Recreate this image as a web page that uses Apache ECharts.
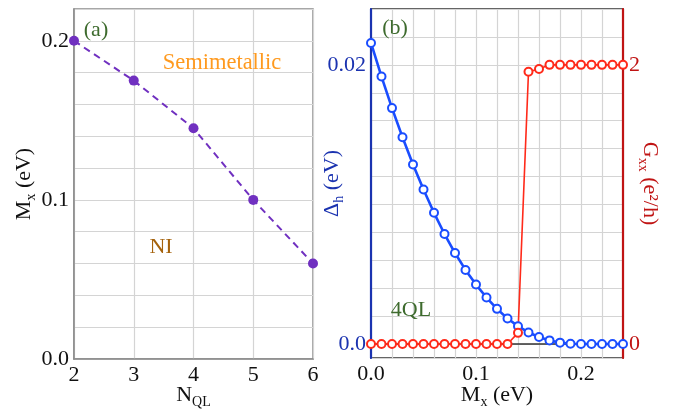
<!DOCTYPE html>
<html>
<head>
<meta charset="utf-8">
<script src="https://cdn.jsdelivr.net/npm/echarts@6/dist/echarts.min.js"></script>
<style>
  html, body { margin: 0; padding: 0; background: #fff; }
  #chart { width: 674px; height: 409px; }
</style>
</head>
<body>
<div id="chart"></div>
<script>
// ---- Panel (a) data ----
const aNQL = [2, 3, 4, 5, 6];
const aMx = [0.2, 0.175, 0.145, 0.1, 0.06];
const aYTickValues = [0, 0.1, 0.2];
const aYTickLabels = ['0.0', '0.1', '0.2'];

// ---- Panel (b) data ----
const bMx = [0, 0.01, 0.02, 0.03, 0.04, 0.05, 0.06, 0.07, 0.08, 0.09, 0.10, 0.11, 0.12,
             0.13, 0.14, 0.15, 0.16, 0.17, 0.18, 0.19, 0.20, 0.21, 0.22, 0.23, 0.24];
const bDelta = [0.02157, 0.01916, 0.0169, 0.01481, 0.01286, 0.01107, 0.0094, 0.00788, 0.00652,
                0.00531, 0.00426, 0.00333, 0.00252, 0.00183, 0.00128, 0.00083, 0.0005, 0.00026,
                0.0001, 0.00002, 0, 0, 0, 0, 0];
const bGxx = [0, 0, 0, 0, 0, 0, 0, 0, 0, 0, 0, 0, 0, 0,
              0.08, 1.95, 1.97, 2, 2, 2, 2, 2, 2, 2, 2];
const bXTickValues = [0, 0.1, 0.2];
const bXTickLabels = ['0.0', '0.1', '0.2'];
const bLeftTickValues = [0, 0.02];
const bLeftTickLabels = ['0.0', '0.02'];
const bRightTickValues = [0, 2];
const bRightTickLabels = ['0', '2'];

const FONT = 'Liberation Serif';
const FS = 22;
const PURPLE = '#7030c0';
const BLUE = '#1a4dff';
const RED = '#ff2a1a';
const AXBLUE = '#1b33b0';
const AXRED = '#c01414';
const GRIDC = '#d4d4d4';

function fmt(values, labels) {
  return function (v) {
    const i = values.findIndex(t => Math.abs(t - v) < 1e-9);
    return i >= 0 ? labels[i] : '';
  };
}
function pairs(xs, ys) { return xs.map((x, i) => [x, ys[i]]); }

function nameRich(color) {
  return {
    m: { fontFamily: FONT, fontSize: FS, color: color, verticalAlign: 'bottom', padding: [0, 0, 3, 0] },
    s: { fontFamily: FONT, fontSize: 14, color: color, verticalAlign: 'bottom', padding: [12, 0, 0, 0] }
  };
}

const chart = echarts.init(document.getElementById('chart'), null, { renderer: 'canvas' });

const option = {
  animation: false,
  backgroundColor: '#fff',
  grid: [
    { left: 74, top: 9, width: 239, height: 350, show: true, borderColor: '#8a8a8a', borderWidth: 1.5,
      containLabel: false, outerBoundsMode: 'none' },
    { left: 371, top: 9, width: 252, height: 349, show: true, borderColor: '#333', borderWidth: 1.5,
      containLabel: false, outerBoundsMode: 'none' }
  ],
  xAxis: [
    {
      gridIndex: 0, type: 'value', min: 2, max: 6, interval: 1,
      axisLine: { show: true, lineStyle: { color: '#8a8a8a', width: 1.5 } },
      axisTick: { show: false },
      axisLabel: { fontFamily: FONT, fontSize: FS, color: '#111', margin: 5 },
      splitLine: { show: true, lineStyle: { color: GRIDC, width: 1.2 } },
      name: '{m|N}{s|QL}', nameLocation: 'middle', nameGap: 24, nameMoveOverlap: false,
      nameTextStyle: { rich: nameRich('#111') }
    },
    {
      gridIndex: 1, type: 'value', min: 0, max: 0.24, interval: 0.02,
      axisLine: { show: true, lineStyle: { color: '#333', width: 1.5 } },
      axisTick: { show: false },
      axisLabel: { fontFamily: FONT, fontSize: FS, color: '#111', margin: 5,
                   formatter: fmt(bXTickValues, bXTickLabels) },
      splitLine: { show: true, lineStyle: { color: GRIDC, width: 1.2 } },
      name: '{m|M}{s|x}{m| (eV)}', nameLocation: 'middle', nameGap: 25, nameMoveOverlap: false,
      nameTextStyle: { rich: nameRich('#111') }
    }
  ],
  yAxis: [
    {
      gridIndex: 0, type: 'value', min: 0, max: 0.22, interval: 0.02,
      axisLine: { show: true, lineStyle: { color: '#8a8a8a', width: 1.5 } },
      axisTick: { show: false },
      axisLabel: { fontFamily: FONT, fontSize: FS, color: '#111', margin: 5,
                   formatter: fmt(aYTickValues, aYTickLabels) },
      splitLine: { show: true, lineStyle: { color: GRIDC, width: 1.2 } },
      name: '{m|M}{s|x}{m| (eV)}', nameLocation: 'middle', nameGap: 36, nameRotate: 90, nameMoveOverlap: false,
      nameTextStyle: { rich: nameRich('#111') }
    },
    {
      gridIndex: 1, type: 'value', min: -0.001, max: 0.024, minInterval: 0.002, maxInterval: 0.002,
      position: 'left',
      axisLine: { show: true, onZero: false, lineStyle: { color: AXBLUE, width: 2.2 } },
      axisTick: { show: false },
      axisLabel: { fontFamily: FONT, fontSize: FS, color: AXBLUE, margin: 5,
                   showMinLabel: false, showMaxLabel: false,
                   formatter: fmt(bLeftTickValues, bLeftTickLabels) },
      splitLine: { show: true, lineStyle: { color: GRIDC, width: 1.2 } },
      name: '{m|Δ}{s|h}{m| (eV)}', nameLocation: 'middle', nameGap: 25, nameRotate: 90, nameMoveOverlap: false,
      nameTextStyle: { rich: nameRich(AXBLUE) }
    },
    {
      gridIndex: 1, type: 'value', min: -0.1, max: 2.4, minInterval: 0.2, maxInterval: 0.2,
      position: 'right',
      axisLine: { show: true, onZero: false, lineStyle: { color: AXRED, width: 2.2 } },
      axisTick: { show: false },
      axisLabel: { fontFamily: FONT, fontSize: FS, color: AXRED, margin: 6,
                   showMinLabel: false, showMaxLabel: false,
                   formatter: fmt(bRightTickValues, bRightTickLabels) },
      splitLine: { show: false },
      name: '{m|G}{s|xx}{m| (e²/h)}', nameLocation: 'middle', nameGap: 13, nameRotate: -90, nameMoveOverlap: false,
      nameTextStyle: { rich: nameRich(AXRED) }
    }
  ],
  series: [
    {
      type: 'line', xAxisIndex: 0, yAxisIndex: 0, data: pairs(aNQL, aMx),
      clip: false, symbol: 'circle', symbolSize: 10,
      itemStyle: { color: PURPLE },
      lineStyle: { color: PURPLE, width: 2, type: [7, 5] }
    },
    {
      type: 'line', xAxisIndex: 1, yAxisIndex: 1, data: pairs(bMx, bDelta),
      clip: false, symbol: 'emptyCircle', symbolSize: 8, showAllSymbol: true,
      itemStyle: { color: BLUE, borderWidth: 1.3 },
      lineStyle: { color: BLUE, width: 2.6 }
    },
    {
      type: 'line', xAxisIndex: 1, yAxisIndex: 2, data: pairs(bMx, bGxx),
      clip: false, symbol: 'emptyCircle', symbolSize: 8, showAllSymbol: true,
      itemStyle: { color: RED, borderWidth: 1.3 },
      lineStyle: { color: RED, width: 1.6 }
    }
  ],
  graphic: [
    { type: 'text', z: 100, style: { text: '(a)', x: 96, y: 30, align: 'center', verticalAlign: 'middle', font: '22px "Liberation Serif"', fill: '#3e6b2e' } },
    { type: 'text', z: 100, style: { text: 'Semimetallic', x: 222, y: 63, align: 'center', verticalAlign: 'middle', font: '22.5px "Liberation Serif"', fill: '#ff9a1f' } },
    { type: 'text', z: 100, style: { text: 'NI', x: 161, y: 247, align: 'center', verticalAlign: 'middle', font: '22px "Liberation Serif"', fill: '#a5620c' } },
    { type: 'text', z: 100, style: { text: '(b)', x: 395, y: 28, align: 'center', verticalAlign: 'middle', font: '22px "Liberation Serif"', fill: '#3e6b2e' } },
    { type: 'text', z: 100, style: { text: '4QL', x: 411, y: 310, align: 'center', verticalAlign: 'middle', font: '22px "Liberation Serif"', fill: '#3e6b2e' } }
  ]
};
chart.setOption(option);
</script>
</body>
</html>
